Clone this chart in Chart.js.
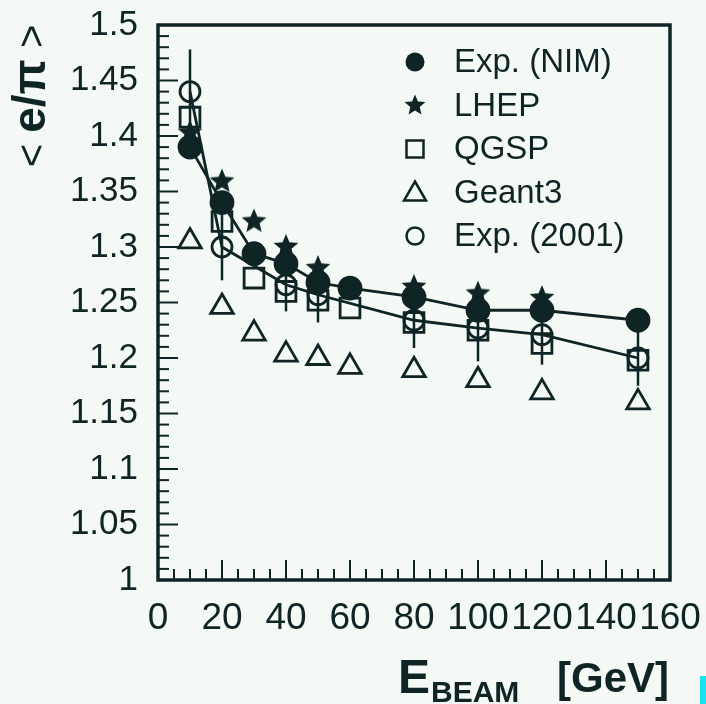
<!DOCTYPE html>
<html>
<head>
<meta charset="utf-8">
<script src="https://cdn.jsdelivr.net/npm/chart.js@4.4.1/dist/chart.umd.min.js"></script>
<style>
  html, body { margin: 0; padding: 0; background: #f4f9f6; }
  canvas { display: block; }
</style>
</head>
<body>
<canvas id="grafico" width="706" height="704"></canvas>
<script>
// Dados
var energias = [10, 20, 30, 40, 50, 60, 80, 100, 120, 150];
var expNim = [1.39, 1.34, 1.294, 1.285, 1.268, 1.263, 1.255, 1.243, 1.243, 1.234];
var lhep = [1.403, 1.359, 1.323, 1.30, 1.281, null, 1.264, 1.258, 1.254, null];
var qgsp = [1.417, 1.323, 1.272, 1.26, 1.252, 1.245, 1.232, 1.225, 1.213, 1.198];
var geant3 = [1.305, 1.246, 1.222, 1.203, 1.2, 1.192, 1.189, 1.18, 1.169, 1.16];
var energias2001 = [10, 20, 40, 50, 80, 100, 120, 150];
var exp2001 = [1.44, 1.30, 1.266, 1.257, 1.234, 1.227, 1.221, 1.20];
var erro2001 = [0.038, 0.03, 0.024, 0.025, 0.025, 0.03, 0.027, 0.025];
var rotulos = ['Exp. (NIM)', 'LHEP', 'QGSP', 'Geant3', 'Exp. (2001)'];
var ticksX = [0, 20, 40, 60, 80, 100, 120, 140, 160];

var tinta = '#0f2424';
var fundo = '#f4f9f6';
var fonte = '"Liberation Sans", Arial, sans-serif';

// Monta os pontos {x, y}
function pontos(xs, ys) {
  var out = [];
  for (var i = 0; i < xs.length; i++) {
    if (ys[i] !== null) out.push({ x: xs[i], y: ys[i] });
  }
  return out;
}

// Estrela cheia de cinco pontas (o 'star' do Chart.js é só traço)
function estrela(r) {
  var c = document.createElement('canvas');
  var s = Math.ceil(r * 2 + 4);
  c.width = s;
  c.height = s;
  var g = c.getContext('2d');
  desenhaEstrela(g, s / 2, s / 2, r);
  return c;
}

function desenhaEstrela(g, cx, cy, r) {
  g.fillStyle = tinta;
  g.beginPath();
  for (var i = 0; i < 10; i++) {
    var raio = i % 2 === 0 ? r : r * 0.45;
    var a = -Math.PI / 2 + i * Math.PI / 5;
    g.lineTo(cx + raio * Math.cos(a), cy + raio * Math.sin(a));
  }
  g.closePath();
  g.fill();
}

// Fundo, moldura, marcas internas e barras de erro
var moldura = {
  id: 'moldura',
  beforeDraw: function(chart) {
    var c = chart.ctx;
    c.save();
    c.fillStyle = fundo;
    c.fillRect(0, 0, chart.width, chart.height);
    c.restore();
  },
  beforeDatasetsDraw: function(chart) {
    var c = chart.ctx;
    var sx = chart.scales.x, sy = chart.scales.y;
    var a = chart.chartArea;
    c.save();
    c.strokeStyle = tinta;
    c.lineWidth = 2;
    // marcas do eixo x (a cada 5 GeV)
    for (var v = 0; v <= 160; v += 5) {
      var px = sx.getPixelForValue(v);
      var len = v % 20 === 0 ? 20 : 11;
      c.beginPath();
      c.moveTo(px, a.bottom);
      c.lineTo(px, a.bottom - len);
      c.stroke();
    }
    // marcas do eixo y (a cada 0.01)
    for (var k = 0; k <= 50; k++) {
      var py = sy.getPixelForValue(1 + k * 0.01);
      var l = k % 5 === 0 ? 20 : 11;
      c.beginPath();
      c.moveTo(a.left, py);
      c.lineTo(a.left + l, py);
      c.stroke();
    }
    // barras de erro da série Exp. (2001)
    c.lineWidth = 2.5;
    for (var i = 0; i < energias2001.length; i++) {
      var ex = sx.getPixelForValue(energias2001[i]);
      c.beginPath();
      c.moveTo(ex, sy.getPixelForValue(exp2001[i] + erro2001[i]));
      c.lineTo(ex, sy.getPixelForValue(exp2001[i] - erro2001[i]));
      c.stroke();
    }
    c.restore();
  },
  afterDraw: function(chart) {
    var c = chart.ctx;
    var a = chart.chartArea;
    c.save();
    c.strokeStyle = tinta;
    c.lineWidth = 3.5;
    c.strokeRect(a.left, a.top, a.right - a.left, a.bottom - a.top);

    // título do eixo x: E_BEAM [GeV]
    c.fillStyle = tinta;
    c.textBaseline = 'alphabetic';
    c.textAlign = 'left';
    c.font = 'bold 48px ' + fonte;
    c.fillText('E', 398, 693);
    c.font = 'bold 30px ' + fonte;
    c.fillText('BEAM', 431, 702);
    c.font = 'bold 42px ' + fonte;
    c.fillText('[GeV]', 557, 692);

    // título do eixo y: < e/π >
    c.translate(45, 96);
    c.rotate(-Math.PI / 2);
    var partes = [['< ', '40px '], ['e/\u03c0', 'bold 46px '], [' >', '40px ']];
    var total = 0;
    for (var p = 0; p < partes.length; p++) {
      c.font = partes[p][1] + fonte;
      total += c.measureText(partes[p][0]).width;
    }
    var xx = -total / 2;
    for (var q = 0; q < partes.length; q++) {
      c.font = partes[q][1] + fonte;
      c.fillText(partes[q][0], xx, 0);
      xx += c.measureText(partes[q][0]).width;
    }
    c.restore();

    // legenda dentro da área do gráfico
    c.save();
    c.fillStyle = tinta;
    c.strokeStyle = tinta;
    c.lineWidth = 2.5;
    c.font = '33px ' + fonte;
    c.textBaseline = 'middle';
    var mx = 415, tx = 454;
    for (var n = 0; n < rotulos.length; n++) {
      var my = 62 + n * 43.5;
      c.beginPath();
      if (n === 0) {
        c.arc(mx, my, 9.5, 0, Math.PI * 2);
        c.fill();
      } else if (n === 1) {
        desenhaEstrela(c, mx, my, 11);
      } else if (n === 2) {
        c.strokeRect(mx - 8.5, my - 8.5, 17, 17);
      } else if (n === 3) {
        c.moveTo(mx, my - 11);
        c.lineTo(mx + 11, my + 8);
        c.lineTo(mx - 11, my + 8);
        c.closePath();
        c.stroke();
      } else {
        c.arc(mx, my, 8.5, 0, Math.PI * 2);
        c.stroke();
      }
      c.fillText(rotulos[n], tx, my + 1);
    }
    // faixa ciano no canto
    c.fillStyle = '#19e3ee';
    c.fillRect(700, 676, 6, 28);
    c.restore();
  }
};

var ctx = document.getElementById('grafico').getContext('2d');

var grafico = new Chart(ctx, {
  type: 'scatter',
  data: {
    datasets: [{
      label: rotulos[0],
      data: pontos(energias, expNim),
      showLine: true,
      borderColor: tinta,
      borderWidth: 2.8,
      pointStyle: 'circle',
      pointRadius: 11,
      pointBackgroundColor: tinta,
      pointBorderColor: tinta,
      order: 0
    }, {
      label: rotulos[1],
      data: pontos(energias, lhep),
      showLine: false,
      pointStyle: estrela(13),
      order: 1
    }, {
      label: rotulos[2],
      data: pontos(energias, qgsp),
      showLine: false,
      pointStyle: 'rect',
      pointRadius: 14,
      pointBorderWidth: 2.8,
      pointBackgroundColor: 'transparent',
      pointBorderColor: tinta,
      order: 3
    }, {
      label: rotulos[3],
      data: pontos(energias, geant3),
      showLine: false,
      pointStyle: 'triangle',
      pointRadius: 13,
      pointBorderWidth: 2.8,
      pointBackgroundColor: 'transparent',
      pointBorderColor: tinta,
      order: 4
    }, {
      label: rotulos[4],
      data: pontos(energias2001, exp2001),
      showLine: true,
      borderColor: tinta,
      borderWidth: 2.8,
      pointStyle: 'circle',
      pointRadius: 10,
      pointBorderWidth: 2.8,
      pointBackgroundColor: 'transparent',
      pointBorderColor: tinta,
      order: 2
    }]
  },
  options: {
    responsive: false,
    animation: false,
    layout: { padding: { top: 25, right: 36, left: 0, bottom: 0 } },
    plugins: {
      legend: { display: false },
      tooltip: { enabled: false }
    },
    scales: {
      x: {
        type: 'linear',
        min: 0,
        max: 160,
        afterFit: function(s) {
          s.height = 124;
          s.paddingLeft = 0;
          s.paddingRight = 0;
        },
        afterBuildTicks: function(s) {
          s.ticks = ticksX.map(function(v) { return { value: v }; });
        },
        grid: { display: false, drawTicks: false },
        border: { display: false },
        ticks: {
          padding: 17,
          color: tinta,
          font: { family: fonte, size: 37 },
          maxRotation: 0,
          autoSkip: false
        }
      },
      y: {
        type: 'linear',
        min: 1,
        max: 1.5,
        afterFit: function(s) {
          s.width = 158;
          s.paddingTop = 0;
          s.paddingBottom = 0;
        },
        grid: { display: false, drawTicks: false },
        border: { display: false },
        ticks: {
          stepSize: 0.05,
          padding: 20,
          color: tinta,
          font: { family: fonte, size: 35 },
          autoSkip: false,
          callback: function(v) { return String(Math.round(v * 100) / 100); }
        }
      }
    }
  },
  plugins: [moldura]
});
</script>
</body>
</html>
